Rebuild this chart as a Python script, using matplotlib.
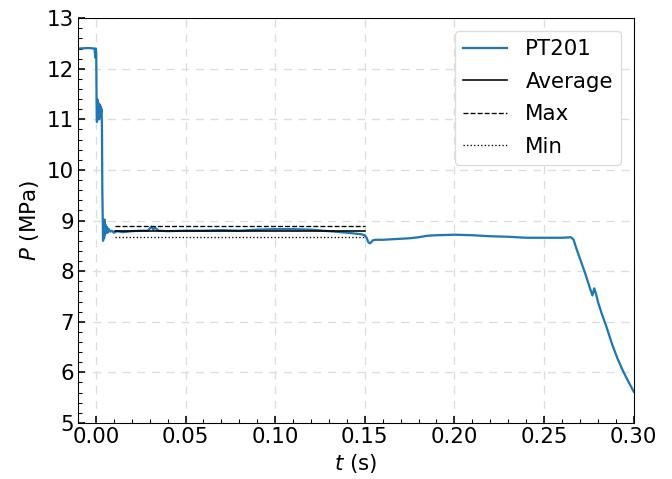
import matplotlib
matplotlib.use("Agg")
import matplotlib.pyplot as plt
from matplotlib.ticker import MultipleLocator

# PT201 pressure trace (time in s, pressure in MPa)
t_pt201 = [-0.010, -0.004, -0.0008, -0.0005, -0.0003, 0.0000, 0.0002, 0.0004,
           0.0006, 0.0008, 0.0010, 0.0012, 0.0014, 0.0016, 0.0018, 0.0020,
           0.0022, 0.0024, 0.0026, 0.0028, 0.0030, 0.0032, 0.0034, 0.0036,
           0.0040, 0.0044, 0.0046, 0.0048, 0.0050, 0.0053, 0.0056, 0.0060,
           0.0065, 0.0070, 0.0080, 0.0090, 0.0100, 0.0120, 0.0150, 0.0200,
           0.0250, 0.0290, 0.0310, 0.0320, 0.0330, 0.0350, 0.0400, 0.0500,
           0.0600, 0.0700, 0.0800, 0.0900, 0.1000, 0.1100, 0.1200, 0.1300,
           0.1400, 0.1480, 0.1500, 0.1510, 0.1520, 0.1528, 0.1535, 0.1545,
           0.1560, 0.1600, 0.1650, 0.1700, 0.1750, 0.1800, 0.1850, 0.1900,
           0.2000, 0.2100, 0.2200, 0.2300, 0.2400, 0.2500, 0.2600, 0.2650,
           0.2665, 0.2680, 0.2700, 0.2730, 0.2760, 0.2770, 0.2780, 0.2790,
           0.2800, 0.2820, 0.2850, 0.2880, 0.2910, 0.2940, 0.2970, 0.3000]
p_pt201 = [12.40, 12.41, 12.40, 12.30, 12.22, 12.40, 12.30, 11.30,
           10.95, 11.40, 11.10, 11.35, 11.05, 11.25, 11.00, 11.30,
           11.05, 11.25, 11.10, 11.25, 11.15, 11.20, 10.80, 9.60,
           8.60, 8.95, 8.65, 9.02, 8.72, 8.92, 8.75, 8.88,
           8.76, 8.84, 8.78, 8.80, 8.76, 8.79, 8.77, 8.79,
           8.80, 8.80, 8.88, 8.82, 8.86, 8.80, 8.79, 8.80,
           8.80, 8.81, 8.80, 8.82, 8.83, 8.83, 8.82, 8.79,
           8.76, 8.73, 8.71, 8.66, 8.57, 8.55, 8.57, 8.61,
           8.62, 8.62, 8.63, 8.64, 8.65, 8.67, 8.70, 8.71,
           8.72, 8.71, 8.69, 8.68, 8.66, 8.66, 8.66, 8.67,
           8.62, 8.45, 8.25, 7.95, 7.62, 7.52, 7.66, 7.55,
           7.40, 7.18, 6.88, 6.55, 6.27, 6.03, 5.82, 5.62]

# Statistics over the steady window
stat_t = [0.0106, 0.150]
p_avg = 8.80
p_max = 8.90
p_min = 8.68

plt.rcParams["font.family"] = ["DejaVu Sans"]
plt.rcParams["mathtext.fontset"] = "dejavusans"

fig, ax = plt.subplots(figsize=(7.0, 4.99), dpi=96)
fig.subplots_adjust(left=0.116, right=0.943, top=0.962, bottom=0.117)

ax.plot(t_pt201, p_pt201, color="#1f77b4", lw=1.7, label="PT201")
ax.plot(stat_t, [p_avg, p_avg], color="black", lw=1.2, ls="-", label="Average")
ax.plot(stat_t, [p_max, p_max], color="black", lw=1.0, ls="--", label="Max")
ax.plot(stat_t, [p_min, p_min], color="black", lw=1.0, ls=":", label="Min")

ax.set_xlim(-0.01, 0.30)
ax.set_ylim(5, 13)
ax.xaxis.set_major_locator(MultipleLocator(0.05))
ax.xaxis.set_minor_locator(MultipleLocator(0.01))
ax.yaxis.set_major_locator(MultipleLocator(1))
ax.yaxis.set_minor_locator(MultipleLocator(0.2))
ax.tick_params(which="both", direction="in", labelsize=16, pad=3)
ax.tick_params(which="major", length=5, width=1.2)
ax.tick_params(which="minor", length=3, width=0.8)

ax.grid(True, which="major", ls=(0, (6, 5)), color="#dddddd", lw=1.0)
ax.set_xlabel(r"$t$ (s)", fontsize=16, labelpad=4)
ax.set_ylabel(r"$P$ (MPa)", fontsize=16, labelpad=4)

leg = ax.legend(loc="upper right", fontsize=16, framealpha=1.0,
                edgecolor="#dddddd", fancybox=True, handlelength=2.05,
                handletextpad=0.85, labelspacing=0.58,
                bbox_to_anchor=(0.997, 0.995))

fig.savefig("out.png", dpi=96)
